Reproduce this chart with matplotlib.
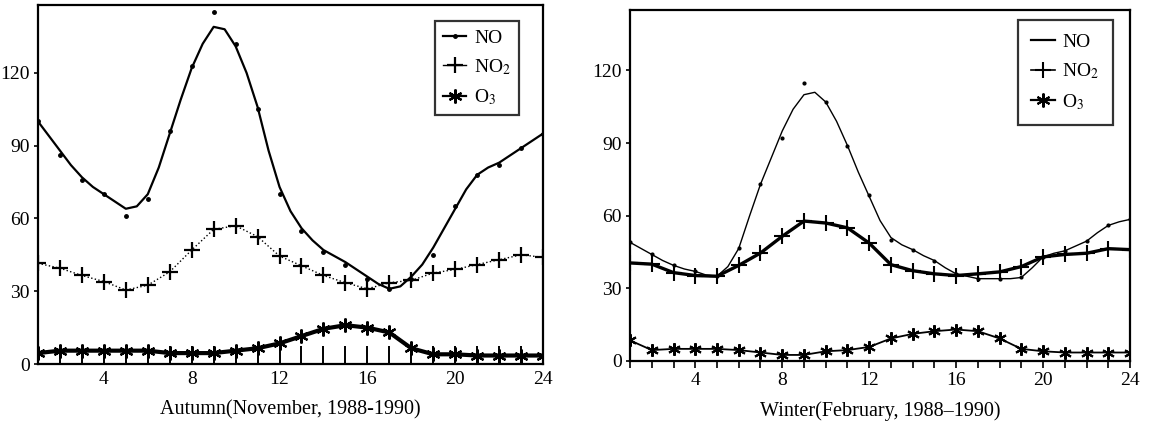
import numpy as np
import matplotlib
matplotlib.use('Agg')
import matplotlib.pyplot as plt
from matplotlib.lines import Line2D

plt.rcParams['font.family'] = ['Liberation Serif', 'DejaVu Serif']
plt.rcParams['mathtext.fontset'] = 'stix'

# hours of the day, and half-hour steps for the hand-drawn NO curves
hours = np.arange(1, 25)
half_hours = np.arange(1, 24.5, 0.5)

# ---- Autumn (November, 1988-1990) ----
aut_no_pts = [100, 86, 76, 70, 61, 68, 96, 123, 145, 132, 105, 70,
              55, 46, 41, 35, 31, 35, 45, 65, 78, 82, 89, 95]
aut_no_curve = [100, 94, 88, 82, 77, 73, 70, 67, 64, 65, 70, 81,
                95, 109, 122, 132, 139, 138, 131, 120, 106, 88, 73, 63,
                56, 51, 47, 44.5, 42, 39, 36, 33, 31, 32, 36, 41,
                48, 56, 64, 72, 78, 81, 83, 86, 89, 92, 95]
aut_no2 = [41.5, 39.5, 36.5, 34, 30.5, 32.5, 38, 47, 55.5, 57, 52.5, 44.5,
           40.5, 36.5, 33.5, 31, 33.5, 34.5, 37.5, 39, 41, 43, 45, 44]
aut_o3 = [4.5, 5.5, 5.5, 5.5, 5.5, 5.5, 4.5, 4.5, 4.5, 5.5, 6.5, 8.5,
          11.5, 14.5, 16, 15, 13, 6.5, 4, 4, 3.5, 3.5, 3.5, 3.5]

# ---- Winter (February, 1988-1990) ----
win_no_pts = [49, 44, 39.5, 37, 35, 46.5, 73, 92, 115, 107, 89, 68.5,
              50, 46, 41.5, 36, 34, 34, 34.5, 43, 45.5, 49.5, 56, 58.5]
win_no_curve = [49, 46.5, 44, 41.5, 39.5, 38, 37, 35.5, 35, 39, 46.5, 60,
                73, 84, 95, 104, 110, 111, 107, 99, 89, 78, 68, 58,
                51, 48, 46, 43.5, 41.5, 38.5, 36, 35, 34, 34, 34, 34,
                34.5, 38.5, 43, 44.5, 45.5, 47.5, 49.5, 53, 56, 57.5, 58.5]
win_no2 = [40.5, 40, 36.5, 35.3, 35, 39.5, 44.6, 51.5, 57.8, 57, 55, 48.7,
           39.8, 37.3, 36, 35.3, 36, 36.8, 39, 43, 44, 44.5, 46.4, 46]
win_o3 = [8.5, 4.5, 5, 5, 5, 4.5, 3.5, 2.5, 2.5, 4, 4.5, 5.8,
          9.3, 11.2, 12.3, 13, 12.3, 9.3, 5, 4, 3.5, 3.5, 3.5, 3.5]

labels = ['NO', r'NO$_\mathrm{2}$', r'O$_\mathrm{3}$']
star = (6, 2, 0)

fig = plt.figure(figsize=(11.51, 4.32), dpi=100)
axL = fig.add_axes([0.0330, 0.1574, 0.4388, 0.8310])
axR = fig.add_axes([0.5474, 0.1644, 0.4344, 0.8125])

''' Autumn panel '''
axL.plot(half_hours, aut_no_curve, 'k-', lw=1.6)
axL.plot(hours, aut_no_pts, 'k.', ms=5)
axL.plot(hours, aut_no2, 'k:', lw=1.0, marker='+', ms=11, mew=1.6)
axL.plot(hours, aut_o3, 'k-', lw=3.0, marker=star, ms=10, mew=1.6)
axL.set_ylim(0, 148)

''' Winter panel '''
axR.plot(half_hours, win_no_curve, 'k-', lw=1.0)
axR.plot(hours, win_no_pts, 'k.', ms=4)
axR.plot(hours, win_no2, 'k-', lw=2.4, marker='+', ms=11, mew=1.5)
axR.plot(hours, win_o3, 'k-', lw=1.3, marker=star, ms=9, mew=1.5)
axR.set_ylim(0, 145)

for ax in (axL, axR):
    ax.set_xlim(1, 24)
    ax.set_xticks([4, 8, 12, 16, 20, 24])
    ax.set_xticks(hours, minor=True)
    ax.set_yticks([0, 30, 60, 90, 120])
    for sp in ax.spines.values():
        sp.set_linewidth(1.6)
    ax.tick_params(labelsize=14, colors='black')
    ax.tick_params(axis='y', direction='out', length=3, width=1.2, pad=3)

axL.tick_params(axis='x', which='both', direction='in', length=13, width=1.4, pad=5)
axR.tick_params(axis='x', which='both', direction='out', length=5, width=1.2, pad=3)

axL.set_xlabel('Autumn(November, 1988-1990)', fontsize=14.5, labelpad=9)
axR.set_xlabel('Winter(February, 1988\u20131990)', fontsize=14.5, labelpad=9)

hL = [Line2D([], [], color='k', lw=1.6, marker='.', ms=5),
      Line2D([], [], color='k', lw=1.0, marker='+', ms=11, mew=1.6),
      Line2D([], [], color='k', lw=1.6, marker=star, ms=10, mew=1.6)]
hR = [Line2D([], [], color='k', lw=1.6),
      Line2D([], [], color='k', lw=1.2, marker='+', ms=11, mew=1.5),
      Line2D([], [], color='k', lw=1.6, marker=star, ms=10, mew=1.5)]

for ax, hnd, anchor, bpad in ((axL, hL, (0.952, 0.955), 0.4),
                              (axR, hR, (0.966, 0.972), 0.7)):
    leg = ax.legend(hnd, labels, loc='upper right', bbox_to_anchor=anchor,
                    fontsize=14, frameon=True, fancybox=False, handlelength=1.2,
                    handletextpad=0.4, borderpad=bpad, labelspacing=0.55,
                    borderaxespad=0)
    leg.get_frame().set_edgecolor('black')
    leg.get_frame().set_linewidth(1.6)

fig.savefig('out.png', dpi=100)
